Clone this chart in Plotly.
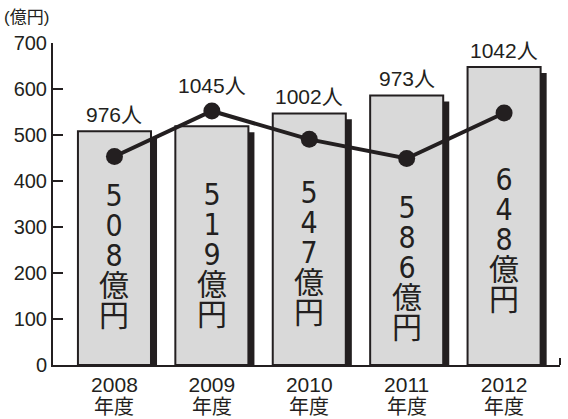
import plotly.graph_objects as go

# --- dados ---
YEARS = ["2008", "2009", "2010", "2011", "2012"]
SALES = [508, 519, 547, 586, 648]        # 億円 (barras)
STAFF = [976, 1045, 1002, 973, 1042]     # 人 (linha)
Y_TICKS = [0, 100, 200, 300, 400, 500, 600, 700]

# --- estilo ---
INK = "#231f20"
GRAY = "#d9d9d9"
BAR_W = 0.75
SHADOW_DX = 0.062      # deslocamento da sombra (unid. de categoria)
SHADOW_DROP = 13       # sombra começa um pouco abaixo do topo
Y1_RANGE = [0, 700]
Y2_RANGE = [660, 1148]                   # eixo oculto da linha
LIFT = [110, 111, 113, 98, 126]          # centro do texto vertical (px acima do eixo)
NUM_FONT = "Liberation Sans Narrow, DejaVu Sans Condensed, Noto Sans CJK JP, sans-serif"
TXT_FONT = "Liberation Sans, Noto Sans CJK JP, sans-serif"

idx = list(range(len(YEARS)))

fig = go.Figure()

# sombra preta atrás das barras
fig.add_trace(go.Bar(
    x=idx, y=[v - SHADOW_DROP for v in SALES],
    width=BAR_W, offset=-BAR_W / 2 + SHADOW_DX,
    marker=dict(color=INK, line=dict(width=0)),
    hoverinfo="skip", showlegend=False,
))

fig.add_trace(go.Bar(
    x=idx, y=SALES, width=BAR_W, offset=-BAR_W / 2,
    marker=dict(color=GRAY, line=dict(color=INK, width=2)),
    showlegend=False,
))

# linha de pessoas (eixo secundário oculto)
fig.add_trace(go.Scatter(
    x=idx, y=STAFF, yaxis="y2", mode="lines+markers",
    line=dict(color=INK, width=4),
    marker=dict(color=INK, size=17),
    showlegend=False,
))

annotations = []

# rótulo "N人": acima da barra, ou acima do marcador se ele passar do topo
scale = (Y1_RANGE[1] - Y1_RANGE[0]) / (Y2_RANGE[1] - Y2_RANGE[0])
for i, (v, n) in enumerate(zip(SALES, STAFF)):
    marker_top = Y1_RANGE[0] + (n - Y2_RANGE[0]) * scale + 20
    annotations.append(dict(
        x=i, y=max(v, marker_top), xref="x", yref="y", text=f"{n}人",
        showarrow=False, yanchor="bottom", yshift=3,
        font=dict(size=21, color=INK, family=TXT_FONT),
    ))

# valores escritos na vertical dentro das barras
# (fonte base 23 define o espaçamento; caracteres em 30px ficam mais juntos)
for i, v in enumerate(SALES):
    chars = list(str(v)) + ["億", "円"]
    txt = "<br>".join(f"<span style='font-size:30px'>{c}</span>" for c in chars)
    annotations.append(dict(
        x=i, y=0, xref="x", yref="y", text=txt, showarrow=False,
        yanchor="middle", yshift=LIFT[i],
        font=dict(size=23, color=INK, family=NUM_FONT),
    ))

# segunda linha do rótulo do eixo x
for i in idx:
    annotations.append(dict(
        x=i, y=0, xref="x", yref="paper", text="年度", showarrow=False,
        yanchor="middle", yshift=-42,
        font=dict(size=20, color=INK, family=TXT_FONT),
    ))

annotations.append(dict(
    x=0, y=1, xref="paper", yref="paper", text="(億円)", showarrow=False,
    xanchor="left", yanchor="middle", xshift=-51, yshift=26,
    font=dict(size=17, color=INK, family=TXT_FONT),
))

fig.update_layout(
    width=568, height=419,
    margin=dict(l=53, r=8, t=43, b=54),
    paper_bgcolor="white", plot_bgcolor="white",
    barmode="overlay",
    annotations=annotations,
    shapes=[dict(type="line", xref="paper", yref="y", x0=1, x1=1, y0=0, y1=15,
                 line=dict(color=INK, width=2))],
    xaxis=dict(
        range=[-0.631, 4.574], tickvals=idx, ticktext=YEARS,
        showline=True, linecolor=INK, linewidth=2,
        ticks="", showgrid=False, zeroline=False, automargin=False,
        tickfont=dict(size=21, color=INK, family=TXT_FONT),
    ),
    yaxis=dict(
        range=Y1_RANGE, tickvals=Y_TICKS,
        showline=True, linecolor=INK, linewidth=2,
        ticks="inside", ticklen=10, tickwidth=2, tickcolor=INK,
        showgrid=False, zeroline=False, automargin=False,
        tickfont=dict(size=20, color=INK, family=TXT_FONT),
    ),
    yaxis2=dict(overlaying="y", range=Y2_RANGE, visible=False),
)

# tira a margem padrão do <body> para a figura caber exatamente na janela
fig.write_html("out.html", config={"displayModeBar": False},
               post_script="document.body.style.margin = '0';")
